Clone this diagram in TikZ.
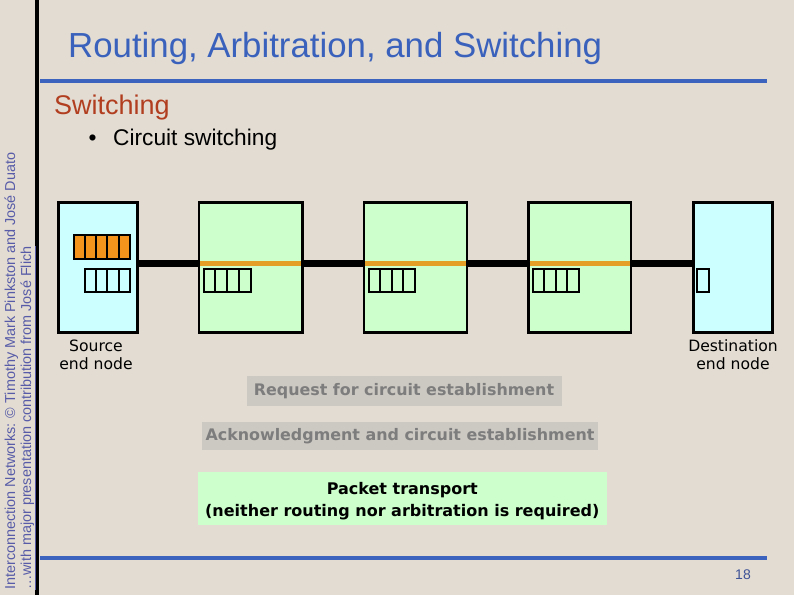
\documentclass[tikz,border=0pt]{standalone}
\usepackage{fontspec}
\setmainfont{Liberation Sans}
\newfontfamily\labfont{DejaVu Sans}
\usetikzlibrary{calc}
\definecolor{bgc}{RGB}{226,220,210}
\definecolor{titleblue}{RGB}{58,98,188}
\definecolor{rulecol}{RGB}{60,100,190}
\definecolor{subred}{RGB}{178,62,32}
\definecolor{sidecol}{RGB}{88,92,168}
\definecolor{numcol}{RGB}{62,82,150}
\definecolor{endfill}{RGB}{204,255,255}
\definecolor{routfill}{RGB}{204,255,204}
\definecolor{buforange}{RGB}{245,148,28}
\definecolor{circorange}{RGB}{228,160,38}
\definecolor{greyboxfill}{RGB}{204,200,194}
\definecolor{greytext}{RGB}{125,125,125}
\newcommand\drawbuf[5]{%
  \foreach \i in {1,...,#3}{\draw[bufcell,fill=#5] ({#1+(\i-1)*#4},#2) rectangle ++(#4,23.5);}}
\begin{document}
\begin{tikzpicture}[x=1pt,y=-1pt,
  nodebox/.style={draw=black, line width=2.6pt, minimum height=130pt, inner sep=0pt, anchor=north west},
  link/.style={line width=6.5pt, black},
  circuit/.style={line width=4.5pt, circorange, shorten <=2.6pt, shorten >=2.6pt},
  bufcell/.style={draw=black, line width=2pt},
  lbl/.style={font=\labfont\fontsize{15.6}{18}\selectfont, align=center, inner sep=0pt, text=black},
  greybox/.style={fill=greyboxfill, text=greytext, inner sep=0pt, font=\labfont\bfseries\fontsize{15.9}{18}\selectfont},
  greenbox/.style={fill=routfill, text=black, inner sep=0pt, align=center, font=\labfont\bfseries\fontsize{16}{22}\selectfont},
  sidetext/.style={rotate=90, anchor=base west, inner sep=0pt, text=sidecol, font=\fontsize{14.4}{16}\selectfont}
]
\useasboundingbox (0,0) rectangle (794,595);
\fill[bgc] (0,0) rectangle (794,595);
% frame lines
\draw[line width=4pt, black] (36.5,0) -- (36.5,595);
\draw[line width=4pt, rulecol] (40,81) -- (767,81);
\draw[line width=4pt, rulecol] (40,557.5) -- (767,557.5);
% side texts
\node[sidetext] (side1) at (15,590) {Interconnection Networks: © Timothy Mark Pinkston and José Duato};
\node[sidetext] (side2) at (31,590) {\underline{…with major presentation contribution from José Flich}};
% titles
\node[anchor=base west, inner sep=0pt, text=titleblue, font=\fontsize{34.8}{40}\selectfont] (title) at (68,57) {Routing, Arbitration, and Switching};
\node[anchor=base west, inner sep=0pt, text=subred, font=\fontsize{27}{32}\selectfont] (sub) at (54,114) {Switching};
\node[anchor=base west, inner sep=0pt, text=black, font=\fontsize{22.7}{26}\selectfont] (bullet) at (88.5,145) {•};
\node[anchor=base west, inner sep=0pt, text=black, font=\fontsize{22.7}{26}\selectfont] (circ) at (113,145) {Circuit switching};
% nodes
\node[nodebox, fill=endfill, minimum width=79pt] (src) at (57,201) {};
\node[nodebox, fill=routfill, minimum width=103.5pt] (r1) at (197.5,201) {};
\node[nodebox, fill=routfill, minimum width=103pt] (r2) at (362.5,201) {};
\node[nodebox, fill=routfill, minimum width=102.5pt] (r3) at (527,201) {};
\node[nodebox, fill=endfill, minimum width=79pt] (dst) at (692,201) {};
% links
\draw[link] ([yshift=4pt]src.east) -- ([yshift=4pt]r1.west);
\draw[link] ([yshift=4pt]r1.east) -- ([yshift=4pt]r2.west);
\draw[link] ([yshift=4pt]r2.east) -- ([yshift=4pt]r3.west);
\draw[link] ([yshift=4pt]r3.east) -- ([yshift=4pt]dst.west);
% established circuit through routers
\draw[circuit] ([yshift=4pt]r1.west) -- ([yshift=4pt]r1.east);
\draw[circuit] ([yshift=4pt]r2.west) -- ([yshift=4pt]r2.east);
\draw[circuit] ([yshift=4pt]r3.west) -- ([yshift=4pt]r3.east);
% buffers
\drawbuf{73.5}{235}{5}{11.3}{buforange}
\drawbuf{84.5}{268.5}{4}{11.4}{none}
\drawbuf{203.5}{268.5}{4}{11.8}{none}
\drawbuf{368.5}{268.5}{4}{11.6}{none}
\drawbuf{532.5}{268.5}{4}{11.6}{none}
\drawbuf{697}{268.5}{1}{12}{none}
% labels
\node[lbl] (srclbl) at (96,355) {Source\\end node};
\node[lbl] (dstlbl) at (733,355) {Destination\\end node};
\node[greybox, minimum width=315pt, minimum height=30pt] (req) at (404,391) {Request for circuit establishment};
\node[greybox, minimum width=396pt, minimum height=28.5pt] (ack) at (400,436) {Acknowledgment and circuit establishment};
\node[greenbox, minimum width=408.5pt, minimum height=53.5pt] (pkt) at (402.3,498.5) {\rule{0pt}{16.5pt}Packet transport\\(neither routing nor arbitration is required)};
\node[anchor=center, inner sep=0pt, text=numcol, font=\fontsize{14}{16}\selectfont] (num) at (743,575) {18};
\end{tikzpicture}
\end{document}
